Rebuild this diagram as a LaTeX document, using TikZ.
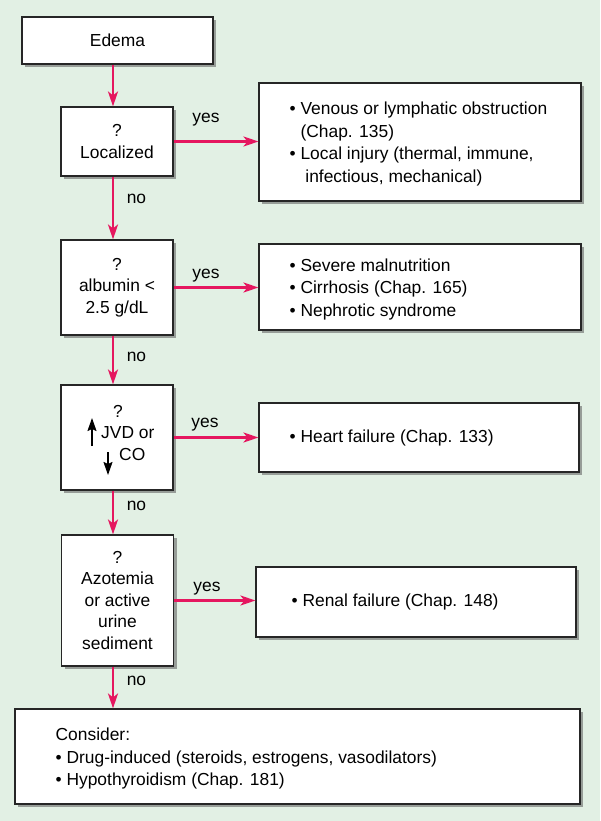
\documentclass[tikz,border=0pt]{standalone}
\usepackage{fontspec}
\setmainfont{Liberation Sans}
\usetikzlibrary{arrows.meta,shadows}
\definecolor{bg}{HTML}{E2F0E4}
\definecolor{arrc}{HTML}{E5175F}
\newcommand{\bul}{\textbullet\ }
\newcommand{\hng}{\hphantom{\textbullet\ }}
\begin{document}
\begin{tikzpicture}[x=1pt,y=-1pt,
  box/.style={draw=black!85, line width=1.1pt, fill=white, inner sep=0pt,
    drop shadow={shadow xshift=3pt,shadow yshift=-3pt,fill=black!60,opacity=0.6}},
  ltxt/.style={font=\fontsize{17.4}{21.5}\selectfont, align=center},
  rtxt/.style={font=\fontsize{17.4}{22.5}\selectfont, align=left, inner sep=0pt, anchor=west},
  lbl/.style={font=\fontsize{17.4}{21.5}\selectfont, inner sep=0pt},
  flow/.style={draw=arrc, line width=2.4pt, -{Stealth[length=15pt,width=10pt,inset=4pt]}},
  updown/.style={draw=black, line width=1.6pt, -{Stealth[length=13pt,width=9pt,inset=2pt]}}]
\useasboundingbox (0,0) rectangle (600,821);
\fill[bg] (0,0) rectangle (600,821);

% left column
\node[box, ltxt, minimum width=191pt, minimum height=47pt] (edema) at (117.5,40.5) {Edema};
\node[box, ltxt, minimum width=112pt, minimum height=69pt] (loc) at (117,141.5) {?\\Localized};
\node[box, ltxt, minimum width=112pt, minimum height=95pt] (alb) at (117,287.5) {?\\albumin <\\2.5 g/dL};
\node[box, minimum width=112pt, minimum height=105pt] (jvd) at (117,437.5) {};
\node[box, ltxt, minimum width=112pt, minimum height=131pt] (azo) at (117.5,600.5) {?\\Azotemia\\or active\\urine\\sediment};
\node[box, minimum width=565pt, minimum height=95pt] (cons) at (297.5,756.5) {};
\node[rtxt] (const) at ([xshift=41pt,yshift=-2pt]cons.west)
  {Consider:\\\bul Drug-induced (steroids, estrogens, vasodilators)\\\bul Hypothyroidism (Chap. 181)};

% JVD box contents
\node[lbl, anchor=base] (jvdq) at (118,417) {?};
\node[lbl, anchor=base west] (jvdt) at (101,438) {JVD or};
\node[lbl, anchor=base west] (cot) at (119,460) {CO};
\coordinate (upb) at (92,446);
\coordinate (upt) at (92,418);
\coordinate (dnt) at (108,452);
\coordinate (dnb) at (108,475);
\draw[updown] (upb) -- (upt);
\draw[updown] (dnt) -- (dnb);

% right column
\node[box, minimum width=322pt, minimum height=118pt] (r1) at (420,142) {};
\node[rtxt] (r1t) at ([xshift=31pt,yshift=-2pt]r1.west)
  {\bul Venous or lymphatic obstruction\\\hng(Chap. 135)\\\bul Local injury (thermal, immune,\\\hng\ infectious, mechanical)};
\node[box, minimum width=322pt, minimum height=86pt] (r2) at (420,287) {};
\node[rtxt] (r2t) at ([xshift=31pt,yshift=-2pt]r2.west)
  {\bul Severe malnutrition\\\bul Cirrhosis (Chap. 165)\\\bul Nephrotic syndrome};
\node[box, minimum width=320pt, minimum height=69pt] (r3) at (419,437.5) {};
\node[rtxt] (r3t) at ([xshift=31pt]r3.west) {\bul Heart failure (Chap. 133)};
\node[box, minimum width=320pt, minimum height=70pt] (r4) at (416,602) {};
\node[rtxt] (r4t) at ([xshift=36pt]r4.west) {\bul Renal failure (Chap. 148)};

% connectors
\coordinate (ax) at (113,0);
\draw[flow] (edema.south -| ax) -- (loc.north -| ax);
\draw[flow] (loc.south -| ax) -- (alb.north -| ax);
\draw[flow] (alb.south -| ax) -- (jvd.north -| ax);
\draw[flow] (jvd.south -| ax) -- (azo.north -| ax);
\draw[flow] (azo.south -| ax) -- (cons.north -| ax);

\draw[flow] (loc.east) -- (loc.east -| r1.west);
\draw[flow] (alb.east) -- (alb.east -| r2.west);
\draw[flow] (jvd.east) -- (jvd.east -| r3.west);
\draw[flow] (azo.east) -- (azo.east -| r4.west);

% labels
\node[lbl, anchor=base] (y1) at (206,123) {yes};
\node[lbl, anchor=base] (y2) at (206,278) {yes};
\node[lbl, anchor=base] (y3) at (205,427) {yes};
\node[lbl, anchor=base] (y4) at (207,591) {yes};
\node[lbl, anchor=base] (n1) at (136.5,203) {no};
\node[lbl, anchor=base] (n2) at (136.5,361) {no};
\node[lbl, anchor=base] (n3) at (136.5,510) {no};
\node[lbl, anchor=base] (n4) at (136.5,685) {no};
\end{tikzpicture}
\end{document}
